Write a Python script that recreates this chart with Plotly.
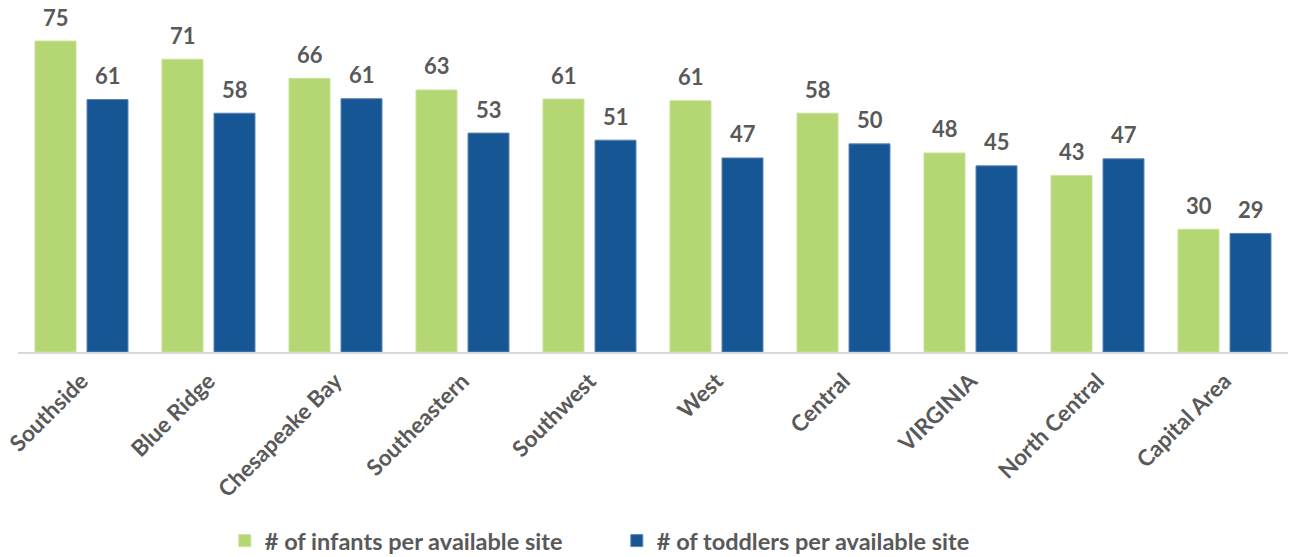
import plotly.graph_objects as go

regions = ["Southside", "Blue Ridge", "Chesapeake Bay", "Southeastern", "Southwest",
           "West", "Central", "VIRGINIA", "North Central", "Capital Area"]
infants = [75.0, 70.6, 66.0, 63.2, 61.0, 60.6, 57.6, 48.0, 42.6, 29.6]
toddlers = [60.9, 57.6, 61.1, 52.8, 51.1, 46.8, 50.2, 44.9, 46.6, 28.6]

series_names = ["# of infants per available site", "# of toddlers per available site"]
GREEN = "#B4D673"
BLUE = "#175695"
GRAY = "#595959"

fig = go.Figure()
fig.add_trace(go.Bar(x=regions, y=infants, name=series_names[0],
                     marker=dict(color=GREEN, line=dict(color="#C9E39A", width=1))))
fig.add_trace(go.Bar(x=regions, y=toddlers, name=series_names[1],
                     marker=dict(color=BLUE, line=dict(color="#5B86B8", width=1))))

annotations = []
for series, shift in ((infants, -26), (toddlers, 26)):
    for cat, v in zip(regions, series):
        annotations.append(dict(
            x=cat, y=v, xref="x", yref="y", text=f"{v:.0f}", showarrow=False,
            xshift=shift, yshift=24, yanchor="middle",
            font=dict(family="Lato", size=22, color=GRAY, weight="bold")))

fig.update_layout(
    width=1291, height=557,
    margin=dict(l=18, r=3, t=0, b=205, autoexpand=False),
    paper_bgcolor="white", plot_bgcolor="white",
    barmode="group", bargap=0.181, bargroupgap=0.2115,
    showlegend=True,
    legend=dict(orientation="h", x=0.4715, xanchor="center",
                yref="container", y=0.029, yanchor="middle",
                font=dict(family="Lato", size=23.5, color=GRAY, weight="bold"),
                itemwidth=30, entrywidth=347, traceorder="normal"),
    annotations=annotations,
    xaxis=dict(showline=True, linecolor="#D9D9D9", linewidth=2, ticks="",
               tickangle=-45, showgrid=False, automargin=False, ticklabelstandoff=5,
               tickfont=dict(family="Lato", size=22.5, color=GRAY, weight="bold")),
    yaxis=dict(visible=False, range=[0, 84.9], showgrid=False, zeroline=False),
)

fig.write_html("out.html")
